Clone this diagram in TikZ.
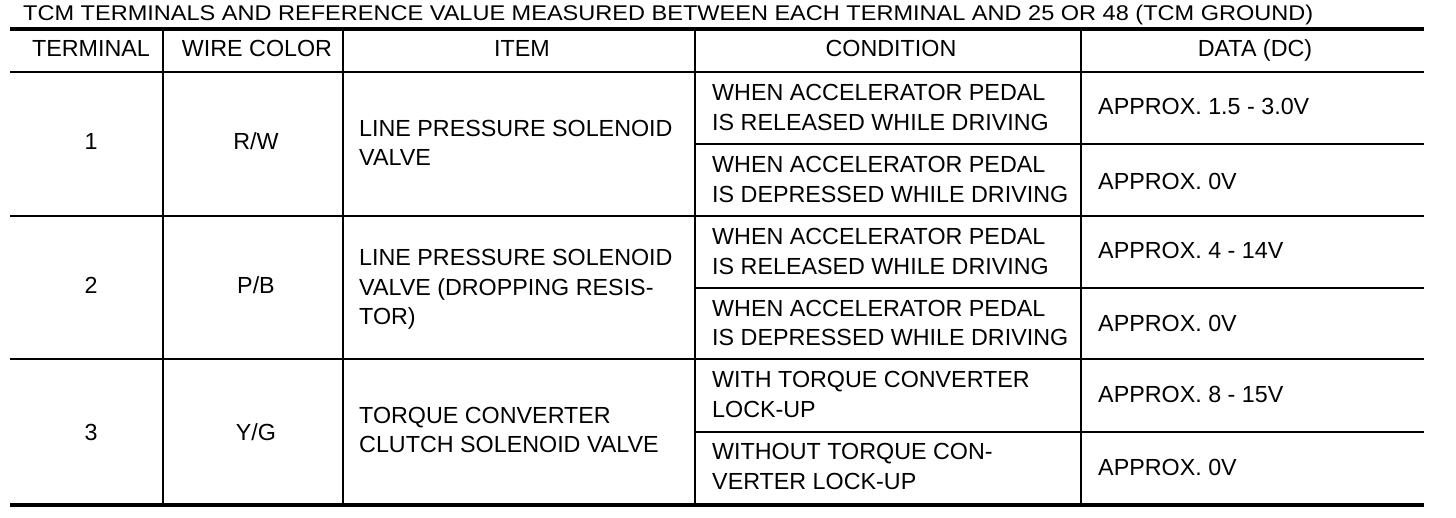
\documentclass[tikz,border=0pt]{standalone}
\usepackage{graphicx}
\usepackage{fontspec}
\setmainfont{Liberation Sans}
\begin{document}
\begin{tikzpicture}[x=1pt,y=-1pt,
  thinrule/.style={line width=1.6pt},
  thickrule/.style={line width=4pt},
  cell/.style={inner sep=0pt,font=\fontsize{23.3pt}{29.5pt}\selectfont},
  lcell/.style={cell,anchor=west,align=left},
  ccell/.style={cell,anchor=base,align=center}]
\useasboundingbox (0,0) rectangle (1456,518);
% title
\node[inner sep=0pt,anchor=base west,font=\fontsize{21.3pt}{25pt}\selectfont] (title) at (23,20.5)
  {\resizebox{1290pt}{\height}{TCM TERMINALS AND REFERENCE VALUE MEASURED BETWEEN EACH TERMINAL AND 25 OR 48 (TCM GROUND)}};
% rules
\draw[thickrule] (10,28.7) -- (1424,28.7);
\draw[thickrule] (10,504.5) -- (1424,504.5);
\draw[thinrule] (10,72) -- (1424,72);
\draw[thinrule] (10,216) -- (1424,216);
\draw[thinrule] (10,359) -- (1424,359);
\draw[thinrule] (695,144) -- (1424,144);
\draw[thinrule] (695,288) -- (1424,288);
\draw[thinrule] (695,432) -- (1424,432);
\foreach \x in {163,343,695,1081} \draw[thinrule] (\x,28.7) -- (\x,504.5);
% header
\node[ccell] (hterm) at (91,56.5) {TERMINAL};
\node[ccell] (hwire) at (257,56.5) {WIRE COLOR};
\node[ccell] (hitem) at (522,56.5) {ITEM};
\node[ccell] (hcond) at (891,56.5) {CONDITION};
\node[ccell] (hdata) at (1255,56.5) {DATA (DC)};
% row 1
\node[ccell] (t1) at (91,150) {1};
\node[ccell] (w1) at (256,150) {R/W};
\node[lcell] (i1) at (359,143) {LINE PRESSURE SOLENOID\\VALVE};
\node[lcell] (c1a) at (712,107.5) {WHEN ACCELERATOR PEDAL\\IS RELEASED WHILE DRIVING};
\node[lcell] (d1a) at (1098,106) {APPROX. 1.5 - 3.0V};
\node[lcell] (c1b) at (712,179.5) {WHEN ACCELERATOR PEDAL\\IS DEPRESSED WHILE DRIVING};
\node[lcell] (d1b) at (1098,181) {APPROX. 0V};
% row 2
\node[ccell] (t2) at (91,294) {2};
\node[ccell] (w2) at (256,294) {P/B};
\node[lcell] (i2) at (359,289.5) {LINE PRESSURE SOLENOID\\VALVE (DROPPING RESIS-\\TOR)};
\node[lcell] (c2a) at (712,251.5) {WHEN ACCELERATOR PEDAL\\IS RELEASED WHILE DRIVING};
\node[lcell] (d2a) at (1098,250) {APPROX. 4 - 14V};
\node[lcell] (c2b) at (712,323) {WHEN ACCELERATOR PEDAL\\IS DEPRESSED WHILE DRIVING};
\node[lcell] (d2b) at (1098,323) {APPROX. 0V};
% row 3
\node[ccell] (t3) at (91,440) {3};
\node[ccell] (w3) at (256,440) {Y/G};
\node[lcell] (i3) at (359,430) {TORQUE CONVERTER\\CLUTCH SOLENOID VALVE};
\node[lcell] (c3a) at (712,394.5) {WITH TORQUE CONVERTER\\LOCK-UP};
\node[lcell] (d3a) at (1098,394) {APPROX. 8 - 15V};
\node[lcell] (c3b) at (712,466.5) {WITHOUT TORQUE CON-\\VERTER LOCK-UP};
\node[lcell] (d3b) at (1098,467) {APPROX. 0V};
\end{tikzpicture}
\end{document}
